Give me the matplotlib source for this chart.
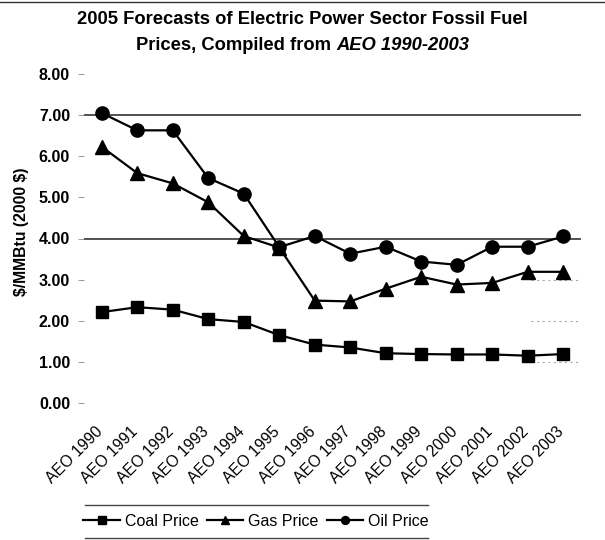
import matplotlib
matplotlib.use("Agg")
import matplotlib.pyplot as plt
from matplotlib.lines import Line2D
from matplotlib.transforms import ScaledTranslation

plt.rcParams['font.family'] = ['Liberation Sans', 'DejaVu Sans']

categories = ["AEO 1990", "AEO 1991", "AEO 1992", "AEO 1993", "AEO 1994",
              "AEO 1995", "AEO 1996", "AEO 1997", "AEO 1998", "AEO 1999",
              "AEO 2000", "AEO 2001", "AEO 2002", "AEO 2003"]
coal_price = [2.21, 2.33, 2.27, 2.04, 1.97, 1.65, 1.42, 1.35, 1.21, 1.19,
              1.18, 1.18, 1.15, 1.19]
gas_price = [6.23, 5.59, 5.34, 4.88, 4.06, 3.78, 2.49, 2.47, 2.78, 3.07,
             2.88, 2.92, 3.19, 3.19]
oil_price = [7.05, 6.63, 6.63, 5.47, 5.09, 3.79, 4.06, 3.63, 3.80, 3.44,
             3.36, 3.80, 3.80, 4.05]
y_ticks = [0, 1, 2, 3, 4, 5, 6, 7, 8]
y_ticklabels = ["0.00", "1.00", "2.00", "3.00", "4.00", "5.00", "6.00", "7.00", "8.00"]

W, H = 605, 540
fig = plt.figure(figsize=(W / 100, H / 100), dpi=100)
ax = fig.add_axes([84 / W, (H - 403) / H, (581 - 84) / W, (403 - 74) / H])

x = list(range(len(categories)))
line_kw = dict(color='black', lw=1.6, markeredgecolor='black', markerfacecolor='black')
ax.plot(x, coal_price, marker='s', markersize=8.5, label='Coal Price', **line_kw)
ax.plot(x, gas_price, marker='^', markersize=9.5, label='Gas Price', **line_kw)
ax.plot(x, oil_price, marker='o', markersize=9.5, label='Oil Price', **line_kw)

ax.set_xlim(-0.5, len(categories) - 0.5)
ax.set_ylim(0, 8)
ax.set_yticks(y_ticks)
ax.set_yticklabels(y_ticklabels, fontsize=11.5, fontweight='bold')
ax.tick_params(axis='y', length=4, width=0.6, color='#888888', pad=6)
ax.set_xticks(x)
ax.set_xticklabels(categories, rotation=45, ha='right', va='top',
                   rotation_mode='anchor', fontsize=11.3)
ax.tick_params(axis='x', length=0, pad=15)
shift = ScaledTranslation(-0.07, 0, fig.dpi_scale_trans)
for lbl in ax.get_xticklabels():
    lbl.set_transform(lbl.get_transform() + shift)
for s in ax.spines.values():
    s.set_visible(False)

# horizontal reference lines
for yv in (7, 4):
    ax.axhline(yv, color='#333333', lw=1.2, zorder=0)
for yv in (3, 2, 1):
    ax.axhline(yv, xmin=0.9, xmax=1.0, color='#aaaaaa', lw=0.8, ls=(0, (2, 3)), zorder=0)

ax.set_ylabel(r"\$/MMBtu (2000 \$)", fontsize=11.3, fontweight='bold')
ax.yaxis.set_label_coords(-0.11, 0.52)

# Title: two lines, second partly italic
t1 = fig.text(0.5, 1 - 20 / H, "2005 Forecasts of Electric Power Sector Fossil Fuel",
              ha='center', va='center', fontsize=13.2, fontweight='bold')
ta = fig.text(0.5, 1 - 45 / H, "Prices, Compiled from ", ha='left', va='center',
              fontsize=13.2, fontweight='bold')
tb = fig.text(0.5, 1 - 45 / H, "AEO 1990-2003", ha='left', va='center',
              fontsize=13.2, fontweight='bold', style='italic')
fig.canvas.draw()
r = fig.canvas.get_renderer()
wa = ta.get_window_extent(r).width
wb = tb.get_window_extent(r).width
x0 = (W - (wa + wb)) / 2
ta.set_x(x0 / W)
tb.set_x((x0 + wa) / W)

# legend with rules above and below
leg = fig.legend(loc='center', bbox_to_anchor=(256 / W, 1 - 521 / H), ncol=3,
                 frameon=False, fontsize=11.5, handlelength=2.3, handletextpad=0.3,
                 columnspacing=0.5, markerscale=0.6)
fig.add_artist(Line2D([85 / W, 428 / W], [1 - 505 / H, 1 - 505 / H],
                      color='#444444', lw=1.0, transform=fig.transFigure))
fig.add_artist(Line2D([85 / W, 428 / W], [1 - 538 / H, 1 - 538 / H],
                      color='#444444', lw=1.0, transform=fig.transFigure))
# top rule
fig.add_artist(Line2D([0, 1], [1 - 2 / H, 1 - 2 / H], color='#333333', lw=1.0,
                      transform=fig.transFigure))

fig.savefig("out.png", dpi=100)
